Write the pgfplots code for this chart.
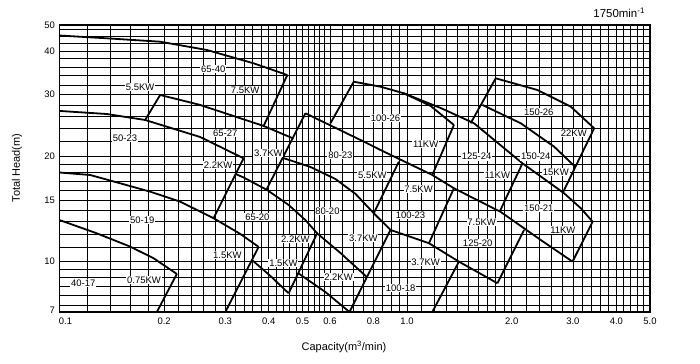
\documentclass[border=0pt]{standalone}
\usepackage{pgfplots}
\pgfplotsset{compat=1.18}
\usepackage{fontspec}
\setmainfont{Liberation Sans}
\begin{document}
\begin{tikzpicture}[x=1bp,y=1bp]
\path[use as bounding box] (-59.5,-51) rectangle (640.5,312);
\begin{axis}[
  at={(0,0)}, anchor=south west,
  scale only axis, width=590.5bp, height=287bp,
  xmode=log, ymode=log,
  xmin=0.1, xmax=5, ymin=7.18, ymax=47.46,
  axis line style={line width=1.6bp},
  xtick={0.1,0.2,0.3,0.4,0.5,0.6,0.8,1,2,3,4,5},
  xticklabels={\hspace{12bp}0.1,0.2,0.3,0.4,0.5,0.6,0.8,1.0,2.0,3.0,4.0,5.0},
  ytick={7.18,10,15,20,30,40,47.46},
  yticklabels={\raisebox{4bp}{7},10,15,20,30,40,\raisebox{-3bp}{50}},
  minor xtick={0.12,0.14,0.16,0.18,0.22,0.24,0.26,0.28,0.32,0.34,0.36,0.38,0.42,0.44,0.46,0.48,0.52,0.54,0.56,0.58,0.65,0.7,0.75,0.85,0.9,0.95,1.1,1.2,1.3,1.4,1.5,1.6,1.7,1.8,1.9,2.2,2.4,2.6,2.8,3.2,3.4,3.6,3.8,4.2,4.4,4.6,4.8},
  minor ytick={7.5,8,8.5,9,9.5,11,12,13,14,16,17,18,19,22,24,26,28,32,34,36,38,42,44,46},
  grid=both,
  major grid style={black, line width=0.75bp},
  minor grid style={black, line width=0.75bp},
  major tick length=0pt, minor tick length=0pt,
  tick label style={font=\fontsize{9.5}{10}\selectfont},
  xticklabel style={yshift=-2bp},
  yticklabel style={xshift=-1bp},
  clip=true,
]
\pgfplotsset{curve/.style={black, solid, line width=1.8bp, mark=none}}
% 40-17
\addplot[curve] coordinates {(0.1,13.15)(0.128,12.05)(0.1597,11.04)(0.1864,10.23)(0.2176,9.22)};
\addplot[curve] coordinates {(0.2176,9.22)(0.1906,7.18)};
% 50-19
\addplot[curve] coordinates {(0.1,17.98)(0.1224,17.69)(0.1494,16.75)(0.1823,15.85)(0.2225,14.84)(0.2775,13.31)(0.3313,12.0)(0.3741,11.02)};
\addplot[curve] coordinates {(0.3741,11.02)(0.3,7.18)};
% 50-23
\addplot[curve] coordinates {(0.1,26.96)(0.1368,26.42)(0.1764,25.40)(0.254,22.71)(0.3386,19.74)};
\addplot[curve] coordinates {(0.3386,19.74)(0.2775,13.31)};
% 65-40
\addplot[curve] coordinates {(0.1,44.29)(0.1368,43.48)(0.1948,42.52)(0.2656,40.26)(0.3618,36.89)(0.4524,34.15)};
\addplot[curve] coordinates {(0.4524,34.15)(0.3867,24.42)};
% 65-27
\addplot[curve] coordinates {(0.1764,25.40)(0.1948,29.95)(0.254,28.04)(0.3867,24.42)(0.4708,22.49)};
% 65-20
\addplot[curve] coordinates {(0.3215,17.80)(0.3386,17.40)(0.3954,16.03)(0.4564,14.52)(0.5099,13.15)(0.5511,12.05)};
\addplot[curve] coordinates {(0.5511,12.05)(0.4564,8.12)};
\addplot[curve] coordinates {(0.358,10.11)(0.4045,9.10)(0.4564,8.12)};
% 80-23 left line and long upper curve
\addplot[curve] coordinates {(0.5099,26.55)(0.3936,16.03)};
\addplot[curve] coordinates {(0.5099,26.55)(0.7345,22.27)(0.8386,20.85)(1.182,17.69)(1.364,16.21)(1.86,13.87)(2.425,11.53)(2.993,10.0)};
% 80-20 top
\addplot[curve] coordinates {(0.4407,19.78)(0.527,18.65)(0.622,17.23)(0.711,15.61)(0.802,13.75)(0.896,12.32)};
% 80-20 divider and bottom
\addplot[curve] coordinates {(0.5511,12.05)(0.643,10.59)(0.766,9.04)};
\addplot[curve] coordinates {(0.486,9.27)(0.582,8.19)(0.683,7.18)};
% 80-23 right line
\addplot[curve] coordinates {(0.947,19.31)(0.802,13.75)};
% 100-26
\addplot[curve] coordinates {(0.7025,32.68)(0.8386,31.62)(0.979,30.28)(1.169,27.86)(1.364,24.58)};
\addplot[curve] coordinates {(0.7025,32.68)(0.602,24.86)};
\addplot[curve] coordinates {(1.364,24.58)(1.182,17.69)};
% 125-24 / 150-21 top
\addplot[curve] coordinates {(0.979,30.28)(1.249,27.49)(1.558,24.86)(2.148,19.10)(2.831,15.68)(3.162,14.21)(3.418,13.01)};
% 150-26
\addplot[curve] coordinates {(1.799,33.42)(2.373,30.94)(2.959,27.73)(3.454,24.05)};
\addplot[curve] coordinates {(1.799,33.42)(1.524,24.86)};
\addplot[curve] coordinates {(3.454,24.05)(2.801,15.68)};
% 150-24
\addplot[curve] coordinates {(1.648,28.04)(2.124,24.86)(2.649,21.31)(3.049,18.65)};
% right lines
\addplot[curve] coordinates {(2.148,19.10)(1.848,13.91)};
\addplot[curve] coordinates {(3.418,13.01)(2.993,10.0)};
\addplot[curve] coordinates {(2.171,12.32)(1.82,8.675)};
\addplot[curve] coordinates {(1.364,16.21)(1.156,11.29)};
% 100-18 top / 125-20 bottom
\addplot[curve] coordinates {(0.896,12.32)(1.156,11.29)(1.41,10.0)(1.82,8.675)};
\addplot[curve] coordinates {(1.41,10.0)(1.182,7.18)};
\addplot[curve] coordinates {(0.896,12.32)(0.683,7.18)};
% labels
\tikzset{lab/.style={fill=white, inner sep=0.8bp, font=\fontsize{9.5}{10}\selectfont}}
\node[lab] at (axis cs:0.277,35.5) {65-40};
\node[lab] at (axis cs:0.1706,31.6) {5.5KW};
\node[lab] at (axis cs:0.342,30.9) {7.5KW};
\node[lab] at (axis cs:0.300,23.3) {65-27};
\node[lab] at (axis cs:0.1544,22.6) {50-23};
\node[lab] at (axis cs:0.286,18.9) {2.2KW};
\node[lab] at (axis cs:0.399,20.4) {3.7KW};
\node[lab] at (axis cs:0.643,20.2) {80-23};
\node[lab] at (axis cs:0.867,25.7) {100-26};
\node[lab] at (axis cs:1.131,21.7) {11KW};
\node[lab] at (axis cs:0.795,17.69) {5.5KW};
\node[lab] at (axis cs:1.586,19.95) {125-24};
\node[lab] at (axis cs:2.346,19.95) {150-24};
\node[lab] at (axis cs:2.393,26.8) {150-26};
\node[lab] at (axis cs:3.019,23.3) {22KW};
\node[lab] at (axis cs:1.82,17.69) {11KW};
\node[lab] at (axis cs:2.679,18.04) {15KW};
\node[lab] at (axis cs:1.079,16.14) {7.5KW};
\node[lab] at (axis cs:1.023,13.59) {100-23};
\node[lab] at (axis cs:1.639,12.98) {7.5KW};
\node[lab] at (axis cs:2.393,14.23) {150-21};
\node[lab] at (axis cs:2.806,12.32) {11KW};
\node[lab] at (axis cs:0.749,11.69) {3.7KW};
\node[lab] at (axis cs:1.597,11.31) {125-20};
\node[lab] at (axis cs:1.131,9.98) {3.7KW};
\node[lab] at (axis cs:0.958,8.41) {100-18};
\node[lab] at (axis cs:0.590,13.96) {80-20};
\node[lab] at (axis cs:0.477,11.61) {2.2KW};
\node[lab] at (axis cs:0.371,13.42) {65-20};
\node[lab] at (axis cs:0.304,10.45) {1.5KW};
\node[lab] at (axis cs:0.441,9.91) {1.5KW};
\node[lab] at (axis cs:0.635,9.04) {2.2KW};
\node[lab] at (axis cs:0.173,13.15) {50-19};
\node[lab] at (axis cs:0.117,8.69) {40-17};
\node[lab] at (axis cs:0.175,8.87) {0.75KW};
\end{axis}
\node[font=\fontsize{11.5}{12}\selectfont, anchor=east] at (589,299) {1750min\textsuperscript{-1}};
\node[font=\fontsize{11}{12}\selectfont] at (284.5,-35) {Capacity(m\textsuperscript{3}/min)};
\node[font=\fontsize{11}{12}\selectfont, rotate=90] at (-42.5,144) {Total Head(m)};
\end{tikzpicture}
\end{document}
